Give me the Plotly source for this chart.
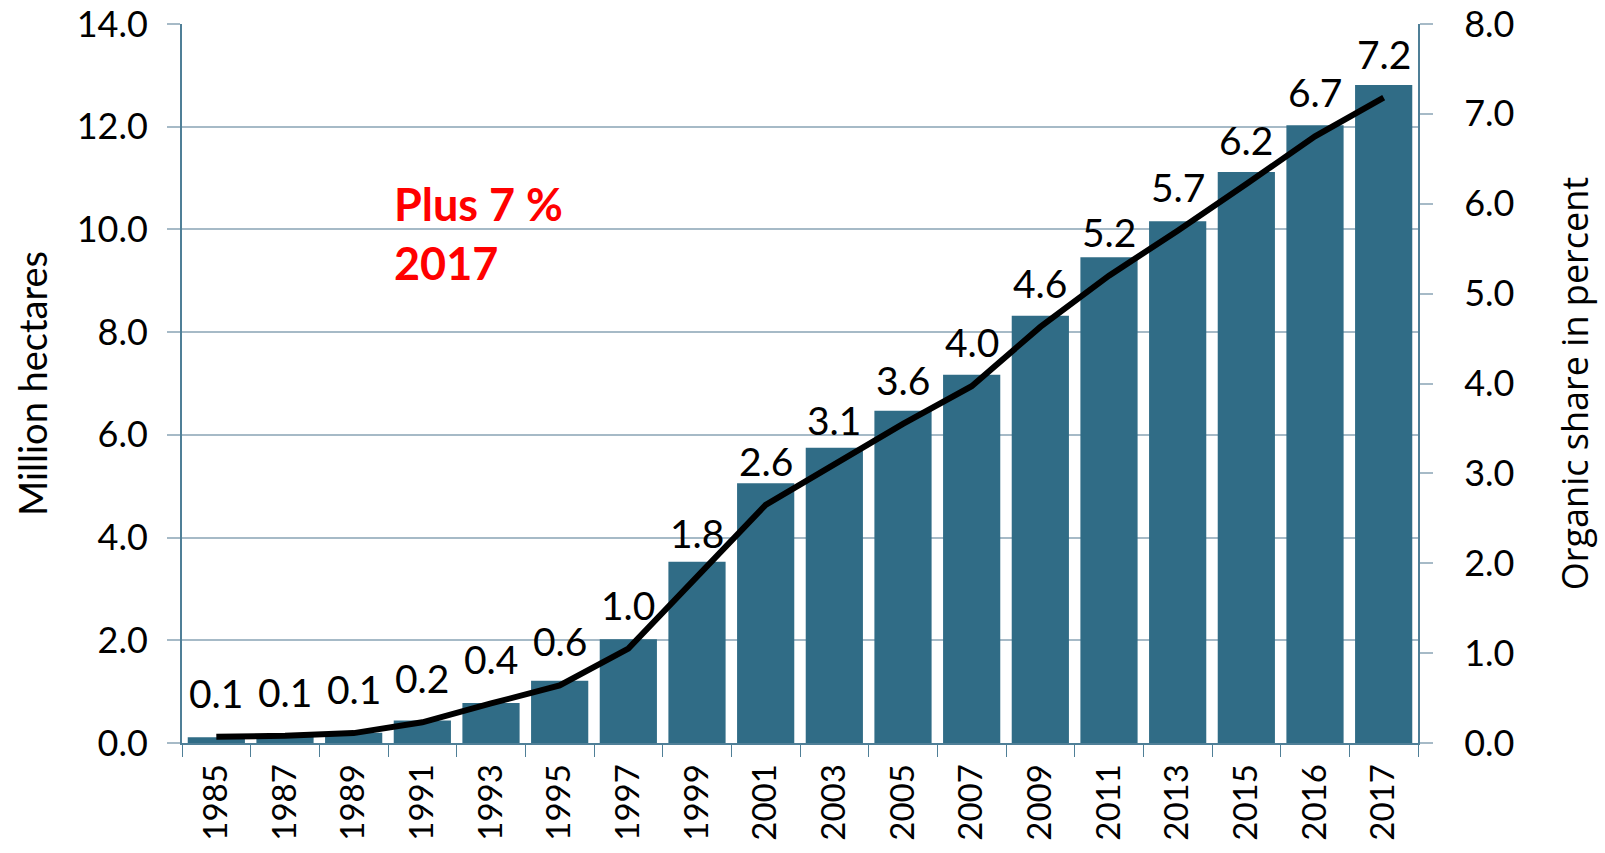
import plotly.graph_objects as go

years = ["1985", "1987", "1989", "1991", "1993", "1995", "1997", "1999", "2001",
         "2003", "2005", "2007", "2009", "2011", "2013", "2015", "2016", "2017"]
hectares = [0.11, 0.13, 0.20, 0.44, 0.78, 1.21, 2.02, 3.53, 5.06,
            5.75, 6.47, 7.17, 8.32, 9.46, 10.16, 11.12, 12.03, 12.81]
share = [0.07, 0.08, 0.11, 0.23, 0.44, 0.64, 1.05, 1.85, 2.65,
         3.10, 3.55, 3.97, 4.63, 5.20, 5.70, 6.22, 6.75, 7.18]
share_labels = ["0.1", "0.1", "0.1", "0.2", "0.4", "0.6", "1.0", "1.8", "2.6",
                "3.1", "3.6", "4.0", "4.6", "5.2", "5.7", "6.2", "6.7", "7.2"]
left_ticks = [0, 2, 4, 6, 8, 10, 12, 14]
right_ticks = [0, 1, 2, 3, 4, 5, 6, 7, 8]

FONT = "Lato"
BAR = "#306C86"
GRID = "#A6BAC7"
AXIS = "#4F7F97"

fig = go.Figure()
fig.add_trace(go.Bar(x=years, y=hectares, marker=dict(color=BAR, line=dict(width=0)),
                     yaxis="y", hoverinfo="x+y"))
fig.add_trace(go.Scatter(x=years, y=share, mode="lines", yaxis="y2",
                         line=dict(color="black", width=6)))

annotations = []
for i, (s, lab) in enumerate(zip(share, share_labels)):
    annotations.append(dict(x=i, y=s, xref="x", yref="y2", text=lab, showarrow=False,
                            yshift=44, font=dict(family=FONT, size=39, color="black")))
annotations.append(dict(x=0.17, y=0.709, xref="paper", yref="paper",
                        text="<b>Plus 7 %</b><br><b>2017</b>", showarrow=False,
                        xanchor="left", yanchor="middle", align="left",
                        font=dict(family=FONT, size=45, color="#FF0000")))

fig.update_layout(
    width=1605, height=853,
    margin=dict(l=182, r=187, t=24, b=110, autoexpand=False),
    paper_bgcolor="white", plot_bgcolor="white",
    showlegend=False, bargap=0.167,
    font=dict(family=FONT, color="black"),
    annotations=annotations,
    xaxis=dict(type="category", range=[-0.5, len(years) - 0.5], autorange=False,
               automargin=False,
               tickangle=-90, tickfont=dict(size=33, family=FONT),
               ticks="outside", tickson="boundaries", ticklen=12, tickcolor=AXIS,
               showline=True, linecolor=AXIS, linewidth=2, showgrid=False,
               ticklabelstandoff=6),
    yaxis=dict(range=[0, 14], tickvals=left_ticks, tickformat=".1f", automargin=False,
               tickfont=dict(size=36, family=FONT), ticklabeloverflow="allow",
               showgrid=True, gridcolor=GRID, gridwidth=2,
               ticks="outside", ticklen=13, tickcolor=GRID, tickwidth=2,
               showline=True, linecolor=AXIS, linewidth=2,
               zeroline=False, ticklabelstandoff=12,
               title=dict(text="Million hectares", font=dict(size=38, family=FONT), standoff=17)),
    yaxis2=dict(range=[0, 8], tickvals=right_ticks, tickformat=".1f", overlaying="y", side="right",
                automargin=False, ticklabeloverflow="allow",
                tickfont=dict(size=36, family=FONT), showgrid=False,
                ticks="outside", ticklen=13, tickcolor=GRID, tickwidth=2,
                showline=True, linecolor=AXIS, linewidth=2, zeroline=False,
                ticklabelstandoff=24,
                title=dict(text="Organic share in percent", font=dict(size=36, family="Open Sans"), standoff=49)),
)

# remove the browser's default 8px body margin so the figure fills the window exactly
fig.write_html("out.html", config={"displayModeBar": False},
               post_script="document.body.style.margin='0';document.body.style.overflow='hidden';")
